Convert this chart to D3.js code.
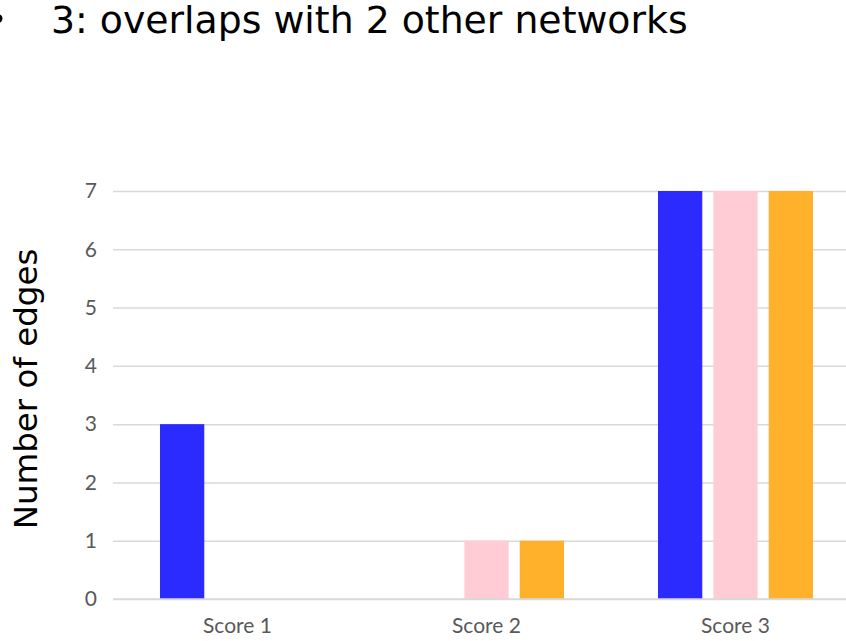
<!DOCTYPE html>
<html>
<head>
<meta charset="utf-8">
<script src="https://cdn.jsdelivr.net/npm/d3@7"></script>
<style>
  body { margin: 0; background: #fff; }
  svg { display: block; }
</style>
</head>
<body>
<div id="chart"></div>
<script>
// chart values
var categories = ["Score 1", "Score 2", "Score 3"];
var seriesNames = ["Network A", "Network B", "Network C"];
var seriesA = [3, 0, 7];
var seriesB = [0, 1, 7];
var seriesC = [0, 1, 7];
var yTicks = [0, 1, 2, 3, 4, 5, 6, 7];
var titleText = "3: overlaps with 2 other networks";
var yLabel = "Number of edges";

var colors = ["#2b2bff", "#ffccd5", "#ffb12b"];
var width = 846, height = 641;

var data = categories.map(function (c, i) {
  return {cat: c, values: [seriesA[i], seriesB[i], seriesC[i]]};
});

var svg = d3.select("#chart").append("svg")
  .attr("width", width)
  .attr("height", height);

// bullet (cut off by the left edge, like the slide crop)
svg.append("circle")
  .attr("cx", -2)
  .attr("cy", 18.5)
  .attr("r", 4.5)
  .attr("fill", "#000");

svg.append("text")
  .attr("x", 51)
  .attr("y", 33)
  .style("font-family", "DejaVu Sans, Verdana, sans-serif")
  .style("font-size", "37.8px")
  .attr("fill", "#000")
  .text(titleText);

var x0 = d3.scaleBand()
  .domain(categories)
  .range([113, 113 + 249 * 3]);

var x1 = d3.scaleBand()
  .domain(seriesNames)
  .range([47, 202])
  .paddingInner(0.2);

var y = d3.scaleLinear()
  .domain([0, 7])
  .range([599, 191]);

// gridlines
var yGrid = d3.axisLeft(y)
  .tickValues(yTicks)
  .tickSize(-(width - 113))
  .tickFormat("");

var grid = svg.append("g")
  .attr("transform", "translate(113,0)")
  .call(yGrid);
grid.select(".domain").remove();
grid.selectAll("line")
  .attr("stroke", "#d9d9d9")
  .attr("stroke-width", 1.5);

// y tick labels
var yAxis = d3.axisLeft(y)
  .tickValues(yTicks)
  .tickFormat(d3.format("d"))
  .tickSize(0)
  .tickPadding(16);

var ya = svg.append("g")
  .attr("transform", "translate(113,0)")
  .call(yAxis);
ya.select(".domain").remove();
ya.selectAll("text")
  .style("font-family", "Lato, Carlito, sans-serif")
  .style("font-size", "21px")
  .attr("fill", "#595959");

// bars
var groups = svg.selectAll(".grp")
  .data(data)
  .enter()
  .append("g")
  .attr("class", "grp")
  .attr("transform", function (d) { return "translate(" + x0(d.cat) + ",0)"; });

groups.selectAll("rect")
  .data(function (d) { return d.values.map(function (v, i) { return {name: seriesNames[i], value: v, i: i}; }); })
  .enter()
  .append("rect")
  .filter(function (d) { return d.value > 0; })
  .attr("x", function (d) { return x1(d.name); })
  .attr("y", function (d) { return y(d.value); })
  .attr("width", x1.bandwidth())
  .attr("height", function (d) { return y(0) - y(d.value); })
  .attr("fill", function (d) { return colors[d.i]; });

// zero line on top
svg.append("line")
  .attr("x1", 113)
  .attr("x2", width)
  .attr("y1", y(0))
  .attr("y2", y(0))
  .attr("stroke", "#d9d9d9")
  .attr("stroke-width", 1.5);

// x axis labels
var xAxis = d3.axisBottom(x0)
  .tickSize(0)
  .tickPadding(19);

var xa = svg.append("g")
  .attr("transform", "translate(0," + y(0) + ")")
  .call(xAxis);
xa.select(".domain").remove();
xa.selectAll("text")
  .style("font-family", "Lato, Carlito, sans-serif")
  .style("font-size", "21px")
  .attr("fill", "#595959");

// y axis title
svg.append("text")
  .attr("transform", "translate(37,389) rotate(-90)")
  .attr("text-anchor", "middle")
  .style("font-family", "DejaVu Sans, Verdana, sans-serif")
  .style("font-size", "32.5px")
  .attr("fill", "#000")
  .text(yLabel);
</script>
</body>
</html>
